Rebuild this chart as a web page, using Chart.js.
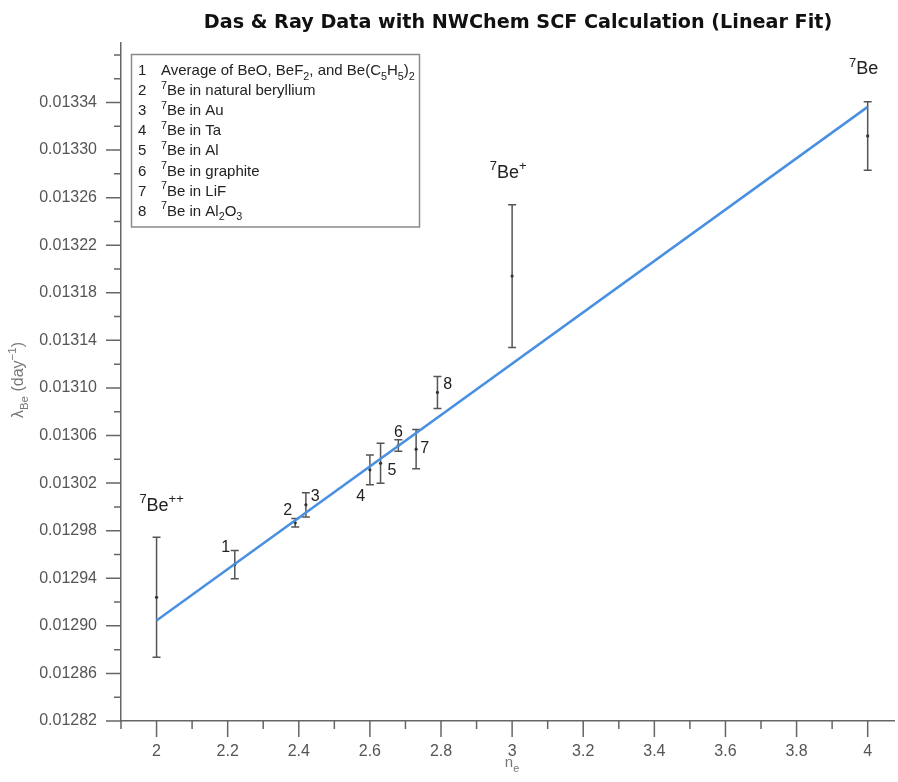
<!DOCTYPE html>
<html><head><meta charset="utf-8">
<script src="https://cdn.jsdelivr.net/npm/chart.js@4.4.0/dist/chart.umd.min.js"></script>
<style>html,body{margin:0;padding:0;background:#fff;}canvas{display:block;}</style>
</head><body>
<canvas id="c" width="898" height="782"></canvas>
<script>
// ---- data ----
const ne = [2, 2.22, 2.39, 2.42, 2.60, 2.63, 2.68, 2.73, 2.79, 3, 4];
const lambdaBe = [0.012924, 0.0129515, 0.0129866, 0.0130017, 0.0130312, 0.0130367, 0.0130516, 0.0130485, 0.0130962, 0.0131941, 0.0133119];
const lambdaErr = [0.0000505, 0.0000119, 0.0000036, 0.0000101, 0.0000125, 0.0000168, 0.0000049, 0.0000165, 0.0000135, 0.0000600, 0.0000288];
const pointLabels = ['^{7}Be^{++}', '1', '2', '3', '4', '5', '6', '7', '8', '^{7}Be^{+}', '^{7}Be'];
const fitNe = [2, 4];
const fitLambda = [0.0129044, 0.0133363];
const xTicks = [1.9, 2.0, 2.1, 2.2, 2.3, 2.4, 2.5, 2.6, 2.7, 2.8, 2.9, 3.0, 3.1, 3.2, 3.3, 3.4, 3.5, 3.6, 3.7, 3.8, 3.9, 4.0];
const xTickLabels = ['', '2', '', '2.2', '', '2.4', '', '2.6', '', '2.8', '', '3', '', '3.2', '', '3.4', '', '3.6', '', '3.8', '', '4'];
const yTicks = [0.01282, 0.01284, 0.01286, 0.01288, 0.01290, 0.01292, 0.01294, 0.01296, 0.01298, 0.01300, 0.01302, 0.01304, 0.01306, 0.01308, 0.01310, 0.01312, 0.01314, 0.01316, 0.01318, 0.01320, 0.01322, 0.01324, 0.01326, 0.01328, 0.01330, 0.01332, 0.01334, 0.01336, 0.01338];
const yTickLabels = ['0.01282', '', '0.01286', '', '0.01290', '', '0.01294', '', '0.01298', '', '0.01302', '', '0.01306', '', '0.01310', '', '0.01314', '', '0.01318', '', '0.01322', '', '0.01326', '', '0.01330', '', '0.01334', '', ''];
const legendNums = ['1', '2', '3', '4', '5', '6', '7', '8'];
const legendTexts = [
  'Average of BeO, BeF_{2}, and Be(C_{5}H_{5})_{2}',
  '^{7}Be in natural beryllium',
  '^{7}Be in Au',
  '^{7}Be in Ta',
  '^{7}Be in Al',
  '^{7}Be in graphite',
  '^{7}Be in LiF',
  '^{7}Be in Al_{2}O_{3}'
];
const titleText = 'Das & Ray Data with NWChem SCF Calculation (Linear Fit)';

// ---- styling / placement (pixels) ----
const FONT = '"Liberation Sans", Arial, sans-serif';
const labelPlace = [ // [dx to text centre, dy to baseline, font size]
  [5, -86.7, 18], [-9, -12.6, 16], [-7.6, -7.6, 16], [9.3, -3.9, 16], [-9.3, 31.1, 16],
  [11.4, 12, 16], [0, -8.6, 16], [8.7, 4, 16], [10.3, -3.9, 16], [-4, -98.4, 18], [-4, -61.4, 18]
];

function parseRich(s) {
  const segs = []; let i = 0, buf = '';
  while (i < s.length) {
    const c = s[i];
    if ((c === '^' || c === '_') && s[i + 1] === '{') {
      if (buf) { segs.push({ t: buf, m: 0 }); buf = ''; }
      const j = s.indexOf('}', i);
      segs.push({ t: s.slice(i + 2, j), m: c === '^' ? 1 : -1 });
      i = j + 1;
    } else { buf += c; i++; }
  }
  if (buf) segs.push({ t: buf, m: 0 });
  return segs;
}
function drawRich(ctx, s, x, y, size, color, align, weight) {
  const segs = parseRich(s); let w = 0;
  const f = (g) => (weight || '') + ' ' + (g.m ? size * 0.72 : size) + 'px ' + FONT;
  segs.forEach(g => { ctx.font = f(g); g.w = ctx.measureText(g.t).width; w += g.w; });
  let cx = align === 'center' ? x - w / 2 : align === 'right' ? x - w : x;
  ctx.fillStyle = color; ctx.textBaseline = 'alphabetic'; ctx.textAlign = 'left';
  segs.forEach(g => {
    ctx.font = f(g);
    const dy = g.m === 1 ? -size * 0.42 : g.m === -1 ? size * 0.3 : 0;
    ctx.fillText(g.t, cx, y + dy); cx += g.w;
  });
  return w;
}

const extras = {
  id: 'extras',
  beforeDatasetsDraw(chart) {
    const { ctx, scales: { x, y } } = chart;
    ctx.save();
    ctx.strokeStyle = '#555'; ctx.lineWidth = 1.5;
    ne.forEach((v, i) => {
      const px = x.getPixelForValue(v);
      const yt = y.getPixelForValue(lambdaBe[i] + lambdaErr[i]);
      const yb = y.getPixelForValue(lambdaBe[i] - lambdaErr[i]);
      ctx.beginPath();
      ctx.moveTo(px, yt); ctx.lineTo(px, yb);
      ctx.moveTo(px - 4, yt); ctx.lineTo(px + 4, yt);
      ctx.moveTo(px - 4, yb); ctx.lineTo(px + 4, yb);
      ctx.stroke();
    });
    ctx.restore();
  },
  afterDraw(chart) {
    const { ctx, scales: { x, y }, chartArea } = chart;
    ctx.save();
    // tick marks
    ctx.strokeStyle = '#666'; ctx.lineWidth = 1.5;
    ctx.beginPath();
    x.ticks.forEach((t, i) => {
      const px = x.getPixelForValue(t.value);
      const len = xTickLabels[i] ? 16 : 8;
      ctx.moveTo(px, chartArea.bottom); ctx.lineTo(px, chartArea.bottom + len);
    });
    y.ticks.forEach((t, i) => {
      const py = y.getPixelForValue(t.value);
      const len = yTickLabels[i] ? 15 : 7;
      ctx.moveTo(chartArea.left, py); ctx.lineTo(chartArea.left - len, py);
    });
    ctx.stroke();

    // point labels
    ne.forEach((v, i) => {
      const p = labelPlace[i];
      drawRich(ctx, pointLabels[i], x.getPixelForValue(v) + p[0], y.getPixelForValue(lambdaBe[i]) + p[1], p[2], '#222', 'center');
    });

    // legend box
    ctx.strokeStyle = '#8a8a8a'; ctx.lineWidth = 1.5;
    ctx.strokeRect(131.5, 54.5, 288, 172.5);
    legendNums.forEach((n, i) => {
      const by = 75 + 20.1 * i;
      drawRich(ctx, n, 138, by, 15, '#222', 'left');
      drawRich(ctx, legendTexts[i], 161, by, 15, '#222', 'left');
    });

    // title (fit to reference width)
    let ts = 19;
    ctx.font = 'bold ' + ts + 'px "DejaVu Sans", sans-serif';
    ts = ts * 629 / ctx.measureText(titleText).width;
    ctx.font = 'bold ' + ts + 'px "DejaVu Sans", sans-serif';
    ctx.fillStyle = '#111'; ctx.textAlign = 'center'; ctx.textBaseline = 'alphabetic';
    ctx.fillText(titleText, 518, 28);

    // axis titles
    drawRich(ctx, 'n_{e}', 512, 767, 15, '#777', 'center');
    ctx.save();
    ctx.translate(23, 380); ctx.rotate(-Math.PI / 2);
    drawRich(ctx, 'λ_{Be} (day^{−1})', 0, 0, 16, '#777', 'center');
    ctx.restore();
    ctx.restore();
  }
};

new Chart(document.getElementById('c'), {
  type: 'scatter',
  data: {
    datasets: [
      {
        type: 'line',
        data: fitNe.map((v, i) => ({ x: v, y: fitLambda[i] })),
        borderColor: '#4a90e2', borderWidth: 2.5, pointRadius: 0, fill: false, tension: 0
      },
      {
        data: ne.map((v, i) => ({ x: v, y: lambdaBe[i] })),
        pointRadius: 1.6, pointBackgroundColor: '#333', pointBorderWidth: 0
      }
    ]
  },
  options: {
    responsive: false, animation: false,
    layout: { padding: { top: 43, right: 0, left: 0, bottom: 0 } },
    plugins: { legend: { display: false }, tooltip: { enabled: false }, title: { display: false } },
    scales: {
      x: {
        type: 'linear', min: 1.9, max: 4.074,
        afterBuildTicks: (s) => { s.ticks = xTicks.map(v => ({ value: v })); },
        afterFit: (s) => { s.height = 61; },
        ticks: { autoSkip: false, maxRotation: 0, padding: 21, color: '#555', font: { family: FONT, size: 16 },
          callback: (v, i) => xTickLabels[i] },
        grid: { display: false, drawTicks: false },
        border: { display: true, color: '#666', width: 1.5 }
      },
      y: {
        type: 'linear', min: 0.01282, max: 0.01339,
        afterBuildTicks: (s) => { s.ticks = yTicks.map(v => ({ value: v })); },
        afterFit: (s) => { s.width = 121; },
        ticks: { autoSkip: false, padding: 24, color: '#555', font: { family: FONT, size: 16 },
          callback: (v, i) => yTickLabels[i] },
        grid: { display: false, drawTicks: false },
        border: { display: true, color: '#666', width: 1.5 }
      }
    }
  },
  plugins: [extras]
});
</script>
</body></html>
